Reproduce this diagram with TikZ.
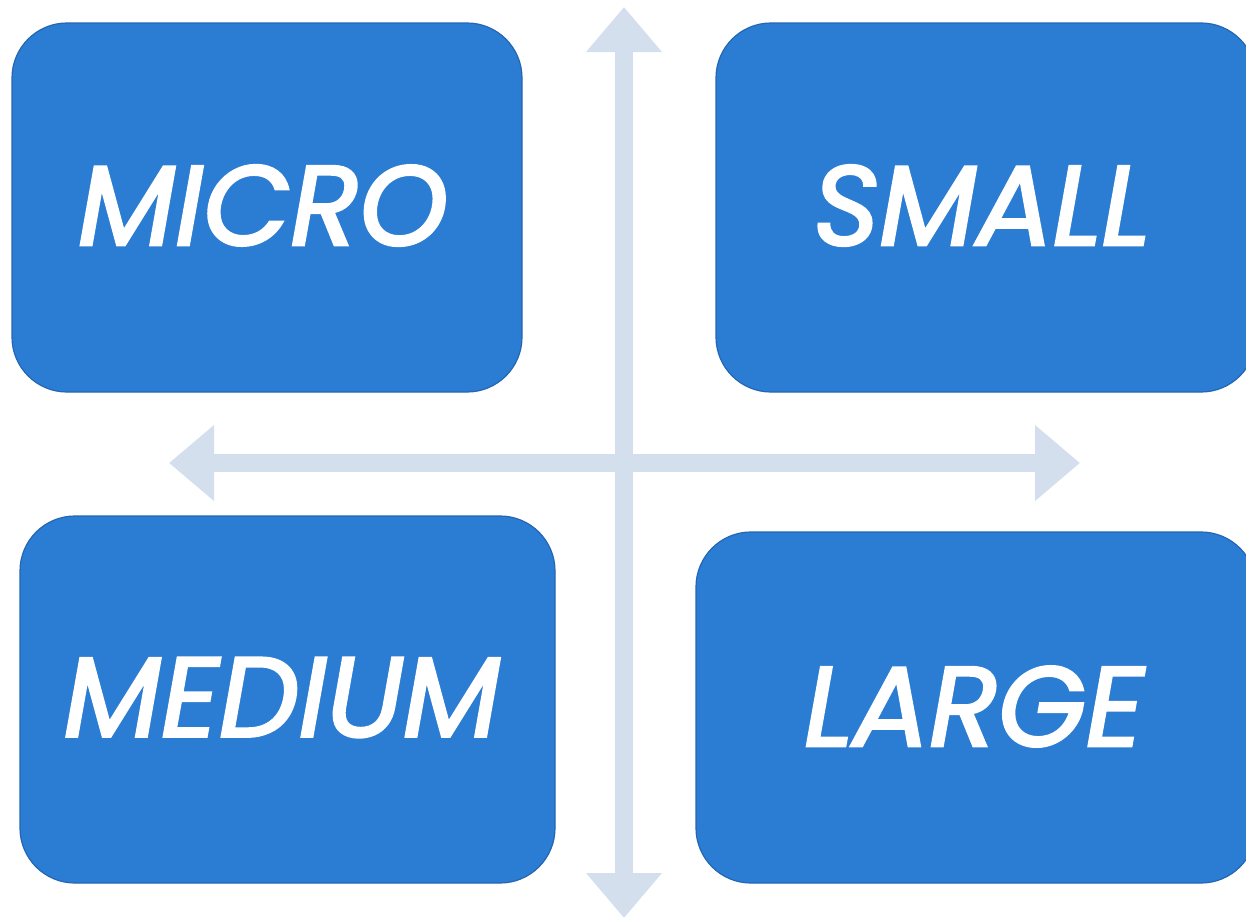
\documentclass[tikz,border=0pt]{standalone}
\usepackage{fontspec}
\setmainfont{Poppins}
\newfontfamily\quadfont{Poppins}[FakeBold=2.4]
\usetikzlibrary{arrows.meta}
\definecolor{boxblue}{HTML}{2B7CD3}
\definecolor{boxedge}{HTML}{2466B4}
\definecolor{axiscol}{HTML}{D4DFEE}
\tikzset{
  quad/.style={fill=boxblue, draw=boxedge, line width=1.2pt, rounded corners=55pt, inner sep=0pt},
  quadtext/.style={text=white, inner sep=0pt, font=\quadfont\fontsize{113}{113}\selectfont\itshape},
  axisarrow/.style={draw=axiscol, line width=18pt, {Triangle[width=73pt,length=45pt]}-{Triangle[width=73pt,length=45pt]}}
}
\begin{document}
\begin{tikzpicture}[x=1pt,y=-1pt]
\useasboundingbox (0,0) rectangle (1246,918);
% axes
\coordinate (vt) at (624,7);
\coordinate (vb) at (624,918);
\coordinate (hl) at (169,463);
\coordinate (hr) at (1080,463);
\draw[axisarrow] (hl) -- (hr);
\draw[axisarrow] (vt) -- (vb);
% boxes
\node[quad, minimum width=510pt, minimum height=369pt] (micro) at (267,207.5) {};
\node[quad, minimum width=540pt, minimum height=369pt] (small) at (986,207.5) {};
\node[quad, minimum width=535pt, minimum height=367pt] (medium) at (287.5,699.5) {};
\node[quad, minimum width=560pt, minimum height=351pt] (large) at (976,707.5) {};
% texts
\node[quadtext] (microtxt) at ([shift={(-4,-2)}]micro.center) {MICRO};
\node[quadtext] (smalltxt) at ([shift={(-4,-2)}]small.center) {SMALL};
\node[quadtext] (mediumtxt) at ([shift={(-5.5,-2)}]medium.center) {MEDIUM};
\node[quadtext] (largetxt) at ([shift={(-2,-1)}]large.center) {LARGE};
\end{tikzpicture}
\end{document}
